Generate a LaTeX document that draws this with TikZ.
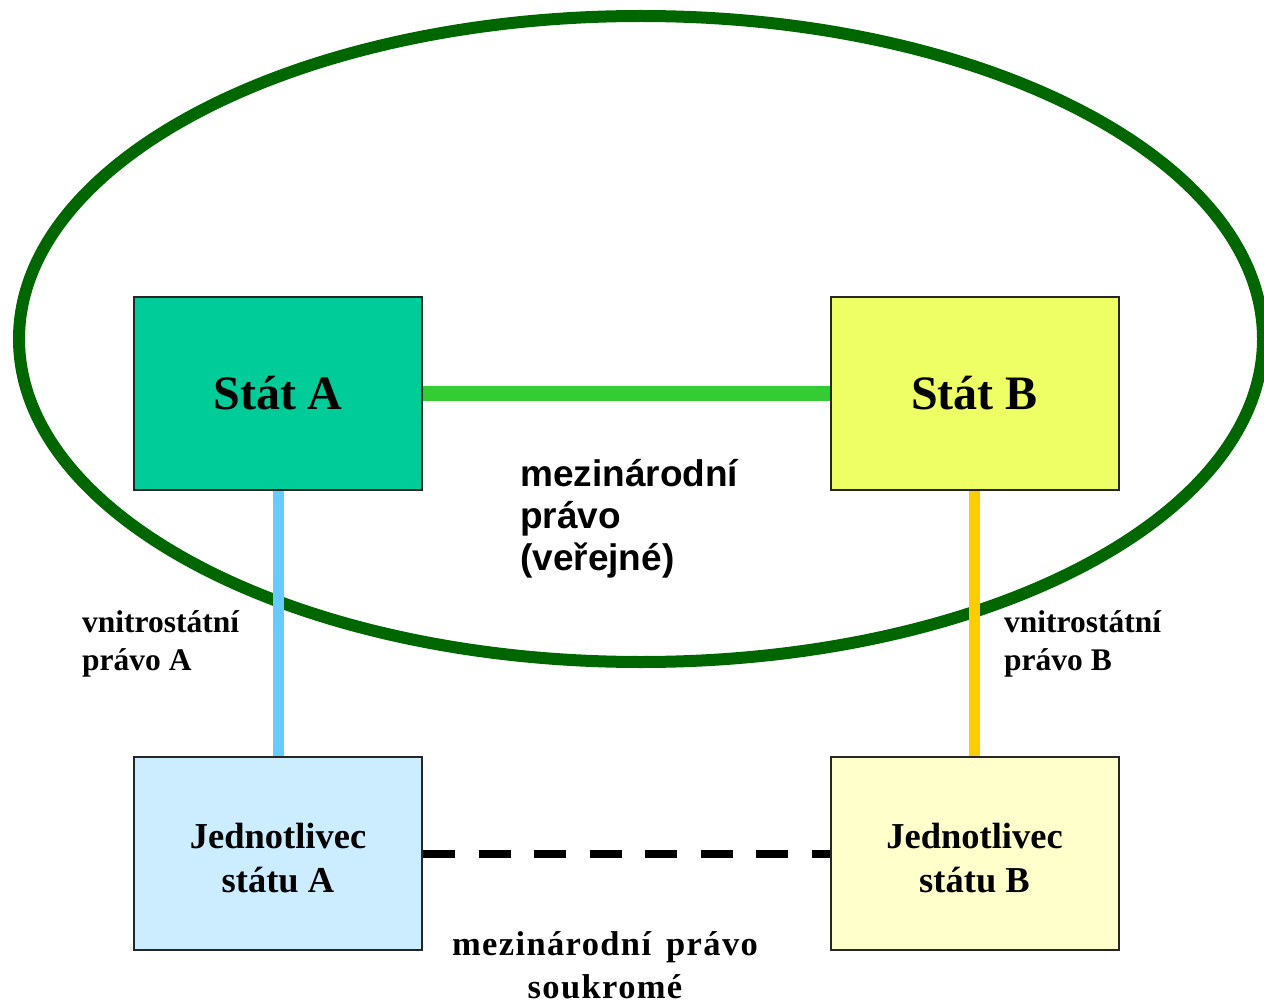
\documentclass[tikz,border=0pt]{standalone}
\usepackage{fontspec}
\setmainfont{Liberation Serif}
\newfontfamily\arl{Liberation Sans}
\newfontfamily\tmsls{Liberation Serif}[LetterSpace=4]
\definecolor{ellgreen}{HTML}{006600}
\definecolor{fillA}{HTML}{00CC99}
\definecolor{fillB}{HTML}{EEFF66}
\definecolor{fillJA}{HTML}{CCECFF}
\definecolor{fillJB}{HTML}{FFFFCC}
\definecolor{lgreen}{HTML}{33CC33}
\definecolor{lblue}{HTML}{66CCFF}
\definecolor{lorange}{HTML}{FFCC00}
\tikzset{
  statebox/.style={draw=black!85, line width=2pt, rectangle, minimum width=288pt, minimum height=193pt, inner sep=0pt, align=center, font=\bfseries\fontsize{48}{56}\selectfont},
  personbox/.style={draw=black!85, line width=2pt, rectangle, minimum width=288pt, minimum height=193pt, inner sep=0pt, align=center, font=\bfseries\fontsize{36.5}{44}\selectfont},
  sidelabel/.style={anchor=base west, align=left, inner sep=0pt, font=\bfseries\fontsize{31.5}{38}\selectfont},
}
\begin{document}
\begin{tikzpicture}[x=1pt,y=-1pt]
\useasboundingbox (0,0) rectangle (1264,1003);
\clip (0,0) rectangle (1264,1003);
\draw[ellgreen, line width=12pt] (641,339) ellipse [x radius=622, y radius=323];
\node[statebox, fill=fillA] (sa) at (278,393.5) {Stát A};
\node[statebox, fill=fillB] (sb) at (974.5,393.5) {Stát B};
\node[personbox, fill=fillJA] (ja) at (278,853.5) {\raisebox{-8pt}[\height][\depth]{\begin{tabular}{@{}c@{}}Jednotlivec\\státu A\end{tabular}}};
\node[personbox, fill=fillJB] (jb) at (974.5,853.5) {\raisebox{-8pt}[\height][\depth]{\begin{tabular}{@{}c@{}}Jednotlivec\\státu B\end{tabular}}};
\draw[lgreen, line width=15pt] (sa.east) -- (sb.west);
\draw[lblue, line width=11pt] (sa.south) -- (ja.north);
\draw[lorange, line width=11pt] (sb.south) -- (jb.north);
\draw[black, line width=8pt, dash pattern=on 32pt off 23.5pt] (ja.east) -- (jb.west);
\node[anchor=base west, align=left, inner sep=0pt, font=\arl\bfseries\fontsize{37}{42}\selectfont] (mpv) at (520,570) {mezinárodní\\právo\\(veřejné)};
\node[sidelabel] (vpa) at (82,670) {vnitrostátní\\právo A};
\node[sidelabel] (vpb) at (1004,670) {vnitrostátní\\právo B};
\node[anchor=base, align=center, inner sep=0pt, font=\tmsls\bfseries\fontsize{34.5}{43}\selectfont] (mps) at (605,998) {mezinárodní\hspace{5pt} právo\\soukromé};
\end{tikzpicture}
\end{document}
